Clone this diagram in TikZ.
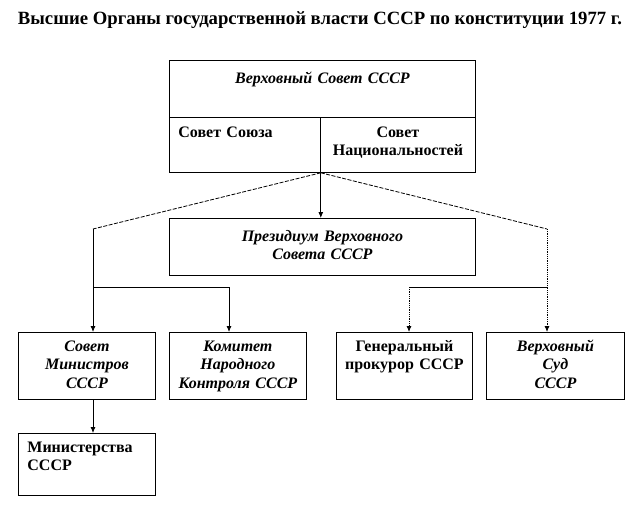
\documentclass[tikz,border=0pt]{standalone}
\usepackage{fontspec}
\setmainfont{Liberation Serif}
\usetikzlibrary{arrows.meta}

\begin{document}
\begin{tikzpicture}[
  x=1pt, y=-1pt,
  box/.style={draw, line width=0.8pt, anchor=north west, inner xsep=4pt, inner ysep=0pt,
    align=center, font=\fontsize{16}{18.4}\selectfont\bfseries},
  line/.style={-{Latex[length=6pt,width=5pt]}, line width=0.8pt},
  dashline/.style={line width=0.8pt, dash pattern=on 4pt off 1.5pt},
  dotline/.style={line, densely dotted}
]
\useasboundingbox (0,0) rectangle (639,504);
\node[anchor=base, font=\fontsize{18.7}{22}\selectfont\bfseries] (title) at (320,24)
  {Высшие Органы государственной власти СССР по конституции 1977 г.};

% Верховный Совет и его палаты
\node[box, text width=298pt, text height=23pt, text depth=34pt] (vss) at (169,60) {\itshape Верховный Совет СССР};
\node[box, text width=133pt, inner xsep=9pt, align=left, text height=20pt, text depth=35pt] (union) at (169,117) {Совет Союза};
\node[box, text width=147pt, text height=20pt, text depth=35pt] (nats) at (320,117) {Совет\\Национальностей};
\node[box, text width=298pt, text height=23pt, text depth=34pt] (prez) at (169,218) {\itshape Президиум Верховного\\Совета СССР};

% нижний ряд
\node[box, text width=129pt, text height=19pt, text depth=48pt] (sm) at (18,332) {\itshape Совет\\Министров\\СССР};
\node[box, text width=129pt, text height=19pt, text depth=48pt] (knk) at (169,332) {\itshape Комитет\\Народного\\Контроля СССР};
\node[box, text width=128pt, text height=19pt, text depth=48pt] (gen) at (336,332) {Генеральный\\прокурор СССР};
\node[box, text width=130pt, text height=19pt, text depth=48pt] (court) at (486,332) {\itshape Верховный\\Суд\\СССР};
\node[box, text width=119pt, inner xsep=9pt, align=left, text height=19pt, text depth=43pt] (mins) at (18,433) {Министерства\\СССР};

\coordinate (lc) at (93,229);
\coordinate (rc) at (547,229);
\coordinate (lb) at (93,287);
\coordinate (kb) at (229,287);
\coordinate (rb) at (547,287);
\coordinate (gb) at (409,287);

\draw[line] (union.south east) -- (union.south east |- prez.north);
\draw[dashline] (union.south east) -- (lc);
\draw[dashline] (union.south east) -- (rc);
\draw[line] (lc) -- (lc |- sm.north);
\draw[line] (lb) -- (kb) -- (kb |- knk.north);
\draw[dotline] (rc) -- (rc |- court.north);
\draw[line width=0.8pt] (rb) -- (gb);
\draw[dotline] (gb) -- (gb |- gen.north);
\draw[line] (lc |- sm.south) -- (lc |- mins.north);
\end{tikzpicture}
\end{document}
